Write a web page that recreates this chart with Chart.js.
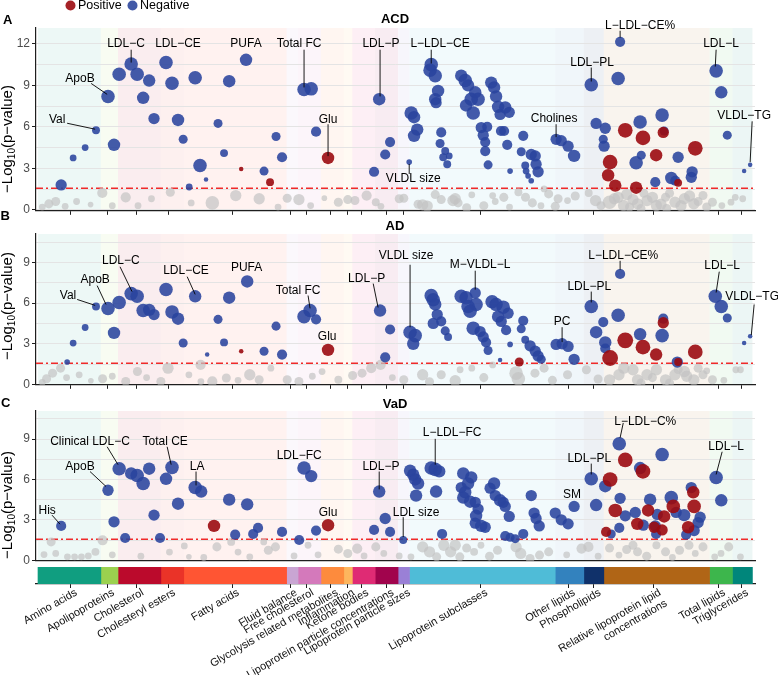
<!DOCTYPE html>
<html><head><meta charset="utf-8">
<script src="https://cdn.jsdelivr.net/npm/chart.js@4.4.1/dist/chart.umd.min.js"></script>
<style>
html,body{margin:0;padding:0;background:#fff;}
#wrap{position:relative;width:778px;height:675px;overflow:hidden;background:#fff;}
canvas{position:absolute;left:0;}
</style></head><body>
<div id="wrap">
<canvas id="cA" width="778" height="220" style="top:0px"></canvas>
<canvas id="cB" width="778" height="188" style="top:206px"></canvas>
<canvas id="cC" width="778" height="184" style="top:386px"></canvas>
<canvas id="cBar" width="778" height="113" style="top:562px"></canvas>
</div>
<script>
// ---------------- DATA ----------------
const categories = ['Amino acids','Apolipoproteins','Cholesterol','Cholesteryl esters','Fatty acids','Fluid balance','Free cholesterol','Glycolysis related metabolites','Inflammation','Ketone bodies','Lipoprotein particle concentrations','Lipoprotein particle sizes','Lipoprotein subclasses','Other lipids','Phospholipids',['Relative lipoprotein lipid','concentrations'],'Total lipids','Triglycerides'];
const catCounts = [22,6,15,8,36,4,8,8,3,8,8,4,51,10,7,37,8,7];
const catColors = ['#109e80','#9bd14f','#bb0a2c','#ea3328','#ff5533','#c9a5d3','#d479bb','#fd8b3d','#fdb65e','#df2b74','#a1044d','#9a80d6','#4fbcd7','#3382be','#10316a','#b06516','#3db64c','#00867b'];
const catTicks = [11.2,24.2,34.5,45.6,67.9,88.2,94.0,102.5,108.2,113.2,122.0,127.8,154.8,185.5,194.5,215.5,238.0,246.1];
const THRESHOLD = 1.56;
const yTicksA = [0,1.5,3,4.5,6,7.5,9,10.5,12];
const yTicksBC = [0,1.5,3,4.5,6,7.5,9,10.5];

// points: [metabolite position, -log10(p), bubble size]
const acdNeg = [
[8.1,1.8,5],[12.3,3.75,3],[16.5,4.5,3],[20.3,5.75,3.5],
[24.5,8.2,6],[26.6,4.7,5.5],
[28.4,9.8,6],[32.6,10.55,6],[34.7,9.8,6],[38.9,9.35,5.5],[36.8,8.1,5.5],[40.6,6.6,5],
[44.8,10.65,6],[46.9,9.15,6],[49,6.5,5.5],[50.8,5.1,4],[52.9,1.65,3],
[55,9.55,6],[56.7,3.2,6],[58.8,2.2,2],[63,6.25,4],[65.1,4.1,3.5],[66.9,9.3,5.5],[72.8,10.85,5.5],[79.1,2.8,4],[83.3,5.3,4],[85.4,3.8,4.5],
[93.1,8.7,6],[95.6,8.75,6],[97.3,5.65,4.5],
[117.6,2.75,4.5],[119.4,8,5.5],[121.5,4,4.5],[123.2,4.9,4.5],
[129.9,3.45,2.5],
[137.6,10.5,6],[137.2,10.1,6],[139,9.7,6],[140,8.6,5.5],[139,8,5.5],[139.3,7.75,5],
[130.6,7,6],[131.6,6.7,5.5],[132.7,5.8,5.5],[131.6,5.35,5.5],
[141.1,5.6,4.5],[140.7,4.8,4],[142.5,4.25,3.5],[143.9,3.9,3],[141.8,3.8,3.5],[143.2,3.3,3.5],
[148.1,9.7,5.5],[149.5,9.35,6],[150.5,9,5.5],[153,8.5,5.5],[151.6,8,6],[154,8,6],[149.8,7.55,5.5],[152.3,7,6],
[155.1,5.95,5],[157.2,6,4.5],[155.8,5.4,5],[156.5,4.9,4.5],[156.5,4.25,4.5],[157.5,3.25,4],
[158.6,9.2,5.5],[159.6,8.85,5.5],[160.3,8.2,5.5],[161,7.45,5.5],[163.5,7.4,5.5],[161.7,6.9,5],[164.9,7.05,5],[163.1,5.7,4.5],[162,5.7,4.5],[164.2,4.7,4.5],[165.2,2.8,2.5],
[169.8,5.35,4.5],[169.1,4.2,4],[170.5,3.2,3.5],[170.8,2.8,3],[171.5,2.45,2.5],[172.6,2.1,2.5],[172.6,4,5],[174,3.9,5],[174.3,3.3,5],[175,2.75,5],
[181.3,5.1,5],[183.1,5,5],[185.5,4.6,5],[187.6,3.9,5.5],
[193.6,9.05,6],[195.3,6.25,5],[198.5,5.9,5],[197.8,5.1,4],[198.1,4.6,5],
[203.7,12.15,4.5],[203,9.5,6],[210.7,6.35,6],[211.1,3.95,4],[209.3,3.4,6],[216,2,4.5],[218.4,6.85,6],[219.1,5.7,4],[224,3.8,5],[221.6,2.3,5.5],[223,2.1,4.5],[228.9,2.75,5],[228.6,2.35,5],
[237.3,10.05,6],[239.1,8.5,5.5],[241.2,5.4,4],
[247.1,2.8,2],[249.2,3.25,2]
];
const acdPos = [[71.1,2.95,2],[81.2,2,3.5],[101.5,3.75,5.5],[205.5,5.75,6.5],[200.2,3.45,6.5],[199.5,2.5,5.5],[202,1.75,5.5],[209.3,1.6,5.5],[211.7,5.2,6.5],[216.3,3.95,5.5],[218.8,5.6,5],[224,1.95,3.5],[230,4.45,6.5]];
const acdNs = [
[3.8,0.43,4],[6.2,0.6,4],[13.5,0.6,3],[18.4,0.38,2.5],[22.5,1.22,4.5],[30.7,0.9,4.5],[39.7,0.8,3],[46.3,1.27,4],[53.6,0.5,3],[61,0.5,6],[69.2,1.03,5],[77.4,0.8,5],[87.2,0.84,4],[91.3,0.74,5],[95.4,0.31,3],[100.2,0.84,2.5],[105.1,0.55,4],[108.4,0.74,4],[110.9,0.67,4],[115,1.03,4.5],[118.2,0.55,3.5],[126.4,0.8,4],[128,0.84,4],[134.6,0.36,5],[136.2,0.27,5],[141.1,0.74,4],[145.2,0.67,5],[146,0.8,5],[151.8,1.08,3],[159.1,1.03,3],[168.1,1.27,3.5],[170.6,0.91,4],[177.1,1.51,3],[178.7,1.15,4],[182,0.8,4],[185.3,0.67,3],[192.7,1.22,3.5],[195.1,0.67,5],[200,0.55,6],[201.7,0.8,5],[204.9,0.31,5],[208.2,0.74,5],[209.8,0.43,5],[213.1,0.67,5],[216.4,0.31,5],[219.6,0.91,4],[222.9,0.55,5],[226.2,0.8,5],[229.5,0.43,5],[232.7,1.03,4],[236,0.55,4],[239.3,0.31,3],[242.5,0.55,3],[246.6,0.8,3],
[203,0.9,5],[206,1.1,5],[212,1.2,4],[215,0.9,5],[218,0.4,5],[221,1.2,4],[225,0.3,5],[228,1.0,5],[231,0.6,4],[207,0.2,4],[211,0.1,4],[220,0.1,4],[133,0.4,4],[147,0.5,4],[156,0.3,4],[160,0.6,3],[165,0.2,3],[173,0.5,4],[176,0.3,3],
[1.5,0.2,3],[9.5,0.25,3],[26,0.3,3],[35,0.3,3],[84,0.2,3],[120,0.25,3],[139,1.1,4],[150,0.15,4],[163,0.9,4],[181,0.25,4],[188,1.0,4],[197,0.3,4],[234,0.2,4],[244,0.9,3]
];

const adNeg = [
[10.2,1.65,2.5],[12.3,3.05,3],[16.5,4.2,3],[20.3,5.75,3.5],
[24.5,5.6,6],[26.6,3.8,5.5],
[28.4,6.05,6],[32.6,6.7,6],[34.7,6.5,6],[36.8,5.45,6],[38.9,5.5,5.5],[40.6,5.15,5],
[44.8,7,6],[46.9,5.35,6],[49,4.85,5.5],[50.8,3.05,4],
[55,6.5,5.5],[59.2,2.2,2],[63,4.8,4],[65.1,3.1,3.5],[66.9,6.4,5.5],[73.2,7.6,5.5],[79.1,2.45,4],[83.3,4.3,4],[85.4,2.2,4.5],
[93.1,5,6],[95.2,5.45,6],[97.3,4.8,4.5],
[119.7,5.45,5.5],[121.5,2,4.5],[123.2,4.05,4.5],
[130.2,3.85,6],[132,3.6,6],[131.3,3,5.5],
[137.6,6.55,6],[138.3,6.25,6],[139,5.9,5.5],[139.7,5.15,5],[138.3,4.5,5],[141.1,4.65,4.5],[142.5,3.95,4],[143.5,3.5,3.5],
[148.1,6.5,6],[149.8,6.4,6],[153,6.75,5],[153.3,5.9,6],[150.5,5.75,6],[151.2,5.4,6],[152.3,4.15,6],[154.7,3.9,5],[155.8,3.5,5],[156.8,3.1,4.5],[157.5,2.5,4],
[158.9,6.1,6],[160.3,5.9,6],[161,5,5.5],[162.8,5.7,6],[164.5,5.25,5],[162.1,4.65,5],[163.8,4,4.5],[165.2,2.95,2.5],[161.7,1.8,2],
[169.8,4.7,4.5],[169.1,4.1,4],[170.5,3.3,3.5],[172.2,2.85,5],[174,2.45,5],[175,2.1,5],[176.1,1.85,4],
[181.3,2.95,5],[183.4,3,5],[185.5,2.8,5],[187.6,1.85,5],
[193.6,5.75,6],[195.3,3.85,5.5],[197.8,4.6,4.5],[198.5,3.1,5.5],[198.5,2.65,4.5],
[203.7,8.15,4.5],[203,5.1,6],[210.7,3.7,5.5],[218.4,3.6,6],[218.8,4.85,4.5],[223.7,1.65,5],
[237,6.5,6],[239.1,5.75,6],[241.2,4.9,4],
[247.1,3.05,2],[249.2,3.55,2]
];
const adPos = [[71.1,2.45,2],[101.5,2.55,5.5],[168.4,1.65,4],[205.5,3.25,7],[200.2,1.95,7],[211.7,2.75,6.5],[216.3,2.2,5.5],[218.8,4.55,5],[224,1.65,3.5],[230,2.4,6.5]];
const adNs = [
[3,0.42,4],[5.1,0.83,4],[7.9,1.2,4],[14.4,0.71,3],[18.5,0.27,2.5],[22.6,0.42,4],[30.7,0.22,4],[34.8,0.95,4],[43,0.22,4],[45.5,1.2,5],[52.8,0.71,3],[56.9,1.44,4.5],[61,0.22,4.5],[65.9,0.47,4],[74.1,0.71,5],[77.4,0.34,4],[81.5,1.2,3],[87.2,0.34,4],[91.3,0.22,4],[99.4,0.95,3],[105.1,0.34,3.5],[110.1,0.66,4],[113.4,0.83,4],[116.6,1.2,4.5],[119.9,1.44,4.5],[128,0.34,4],[134.6,0.71,5],[141.1,0.71,4],[146,0.27,5],[147.7,1.08,3],[151.8,1.2,3],[159.1,1.44,3],[167.3,0.83,6],[168.1,0.42,6],[173.9,0.83,4],[177.1,1.2,4],[185.3,0.71,4],[191.9,1.08,4],[200,0.34,5],[203.3,0.71,5],[208.2,1.08,5],[209.8,0.34,5],[213.1,0.71,5],[216.4,1.08,5],[219.6,0.34,5],[222.9,0.71,5],[226.2,0.95,5],[229.5,0.34,5],[232.7,0.71,4],[236,0.34,4],[244.2,1.08,3],[245.8,1.08,3],
[205,1.2,5],[211,0.1,4],[215,0.5,4],[221,0.1,4],[224,1.1,4],[227,0.6,5],[231,1.2,4],
[1.5,0.15,3],[10,0.5,3],[26,0.6,3],[38,0.5,3],[57,0.2,3],[70,0.3,3],[96,0.6,3],[124,0.5,3],[137,0.2,4],[156,0.5,4],[180,0.3,4],[196,0.4,4],[234,1.0,3],[240,0.3,3]
];

const vadNeg = [
[8.1,2.55,4.5],[24.5,5.2,5],[26.6,2.85,5],
[28.4,6.8,6],[30.5,1.65,4.5],[32.6,6.45,5.5],[34.7,6.3,6],[36.8,5.7,6],[38.9,6.8,5.5],[40.6,3.35,5],[42.7,1.65,4.5],
[44.8,6.05,5.5],[46.9,6.9,6],[49,4.2,5.5],
[55,5.4,6],[57.1,5.1,5.5],[66.9,4.5,5.5],[69,1.9,4.5],[73.2,4.15,5.5],[75.3,1.95,4.5],[77,2.4,4.5],[85.4,2.1,4.5],
[91.4,1.5,4.5],[93.1,6.85,6],[95.6,6.25,5.5],[97.3,2.2,4.5],
[117.6,2.25,4.5],[119.4,5.1,5.5],[121.5,3.1,5],[123.2,2.1,4.5],
[127.8,1.5,3.5],
[130.2,6.65,5.5],[131.3,6.35,5.5],[132,6,5.5],[133,5.7,5.5],[132.3,4.8,5.5],
[137.6,6.85,6],[139,6.75,6],[140.4,6.6,5.5],[139.3,5.1,5.5],[141.4,1.95,4.5],
[148.8,6.45,5.5],[151.6,6.15,5.5],[150.5,5.7,5.5],[148.1,5.4,5],[149.5,5.05,5.5],[148.8,4.65,5.5],[151.2,4.35,5.5],[153,4.3,5],[154,3.8,5],[153.3,3.3,5.5],[153,2.75,5],[155.1,2.55,5.5],[156.5,2.45,5],
[159.6,5.7,5.5],[158.2,5.35,5],[160,4.8,5],[161.7,4.45,5.5],[162.8,4.3,5],[163.5,4,5],[164.9,3.25,5],[163.5,1.8,4.5],[165.2,1.7,4],[167,1.6,4],[169.8,1.95,4.5],
[172.6,4.8,5],[173.6,3.5,5],[174.3,3.1,5],[175.4,2.55,5],
[181,3.5,5],[183.1,3,5],[185.5,2.7,5],[187.6,4,5],
[193.6,6.05,6],[195.3,4.1,5.5],[198.5,5.5,5.5],
[203.4,8.65,6],[200.6,1.95,4],[203.7,4.6,5],[203.4,2.4,4.5],[205.5,3.3,5],[209,3.55,5],[211.8,2.6,5],[210.7,6.85,5.5],[218.4,7.85,6],[214.2,4.5,5.5],[216.7,3.4,5],[216,2.55,5],[216.3,1.95,4.5],[221.6,4.65,6],[223.3,3.55,5],[226.1,3.35,5.5],[226.8,1.9,4.5],[228.6,5.4,5],[231.7,3.2,5],[231,2.8,5],[229.6,2.2,5],
[237.3,6.15,6],[239.1,4.45,5.5]
];
const vadPos = [[61.6,2.55,5.5],[101.5,2.6,5.5],[205.5,7.45,6.5],[200.2,6,6.5],[198.8,2.1,4.5],[202,3.7,6],[209.7,2.7,5.5],[211.7,6.6,6.5],[213.5,3.7,5.5],[215.6,2.45,5],[218.4,2.25,5],[219.1,3.25,5.5],[222.3,4,6],[227.5,2.45,5.5],[229.3,5.05,5.5],[229.6,4,6]];
const vadNs = [
[4.6,1.36,4],[2.1,0.42,3],[6.2,0.5,3],[10.3,0.25,3],[12.8,0.25,3],[15.2,0.25,3],[17.6,0.32,3],[20.1,0.62,3.5],[22.6,1.48,4.5],[51.2,1.06,3],[52.8,0.25,2.5],[62.6,0.99,4],[67.6,1.36,3.5],[74.1,0.25,3],[79,1.36,3],[80.6,0.74,4],[83.1,0.99,4],[89.6,0.32,3],[94.5,1.11,3],[105.1,0.82,4],[108.4,0.5,4],[111.7,0.86,4.5],[114.1,0.32,3],[118.2,0.99,4],[126.4,0.32,3],[130.5,0.25,3],[134.6,0.99,5],[137,0.62,5],[139.5,0.25,4],[142,1.11,5],[144.4,0.62,5],[146,1.11,5],[147.6,0.25,4],[152.6,0.62,3.5],[155,1.11,3],[160.8,0.74,4],[167.3,0.99,5],[168.9,0.5,5],[172.2,0.13,4],[175.5,0.38,4],[178.7,0.62,4],[190.2,0.86,4.5],[192.6,0.99,4.5],[203.3,0.38,3],[208.2,1.11,4],[209.8,0.62,4],[216.4,1.11,3.5],[219.6,0.62,4],[224.5,0.74,4],[227.8,1.11,4],[232.7,0.99,4],[236.8,0.25,3],[241.7,0.99,4],[245.8,0.25,3],
[200,0.9,4],[213,0.3,4],[222,0.2,3],[230,0.5,3],
[26,0.4,3],[36,0.3,3],[46,0.6,3],[58,0.2,3],[70,0.6,3],[98,0.4,3],[121,0.5,3],[150,0.9,4],[158,0.3,4],[185,0.4,3],[196,0.3,3],[206,0.8,4],[239,0.5,3]
];

// labels: [text, textX, textY, lineFromX, lineFromY, lineToX, lineToY]
const acdLabels = [
['Val',6.7,6.55,10.2,6.26,20,5.83],
['ApoB',14.7,9.5,18.6,9.14,24.2,8.35],
['LDL−C',30.8,12.0,32.6,11.58,32.6,10.65],
['LDL−CE',49,12.0],
['PUFA',72.8,12.0],
['Total FC',91.4,12.0,93.1,11.58,93.1,8.85],
['Glu',101.5,6.55,101.5,6.19,101.5,3.88],
['LDL−P',120,12.0,119.7,11.58,119.7,8.2],
['L−LDL−CE',140.7,12.0,137.6,11.58,137.6,10.58],
['VLDL size',131.3,2.23,129.9,2.59,129.9,3.31],
['Cholines',180.6,6.6,181.3,6.19,181.3,5.25],
['LDL−PL',193.9,10.65,193.6,10.29,193.6,9.28],
['L−LDL−CE%',210.7,13.3,203.7,12.95,203.7,12.45],
['LDL−L',239,12.0,237.3,11.58,237,10.36],
['VLDL−TG',247.1,6.8,249.9,6.4,249.2,3.45]
];
const adLabels = [
['Val',10.5,6.55,13.7,6.27,20,5.83],
['ApoB',20,7.7,20.7,7.29,23.8,5.9],
['LDL−C',29,9.1,28.7,8.68,32.9,6.85],
['LDL−CE',51.8,8.4,52.2,7.95,55,6.64],
['PUFA',73,8.6],
['Total FC',91,6.9,94.5,6.56,95.2,5.61],
['Glu',101.2,3.5],
['LDL−P',115,7.8,117.3,7.44,119,5.68],
['VLDL size',128.8,9.5,130.2,8.83,130.2,4.22],
['M−VLDL−L',154.7,8.8,153,8.39,153,7.0],
['PC',183.4,4.6,183.4,4.22,183.4,3.12],
['LDL−PL',192.9,7.2,193.6,6.85,193.6,6.05],
['L−LDL−CE%',204.8,9.5,203.7,9.12,203.7,8.46],
['LDL−L',239.4,8.75,238.4,8.32,237.3,6.78],
['VLDL−TG',249.9,6.5,250.6,5.9,249.6,3.64]
];
const vadLabels = [
['His',3.2,3.7,4.9,3.35,7.7,2.68],
['ApoB',14.7,6.95,18.2,6.59,23.8,5.48],
['Clinical LDL−C',18.2,8.8,24.2,8.43,28,7.1],
['Total CE',44.5,8.8,45.2,8.43,46.6,7.1],
['LA',55.7,6.95,55.3,6.59,55.3,5.56],
['LDL−FC',91.4,7.75],
['Glu',101.5,3.55],
['LDL−P',120,6.95,119.4,6.59,119.4,5.26],
['LDL size',132.3,3.55,127.8,3.2,127.8,1.72],
['L−LDL−FC',144.9,9.45,139,9.02,139,7.1],
['SM',186.9,4.9],
['LDL−PL',192.9,7.55,193.6,7.18,193.6,6.37],
['L−LDL−C%',212.5,10.3,204.8,10.2,203.7,9.1],
['LDL−L',240.8,8.45,239.4,8.06,237.3,6.37]
];

// ---------------- STYLE ----------------
const FONT = '"Liberation Sans", Arial, Helvetica, sans-serif';
Chart.defaults.font.family = FONT;
Chart.defaults.font.size = 12;
const X_MIN = -0.7, X_MAX = 250.9;
const SIZE_SCALE = 1.13;
const BLUE = 'rgba(42,68,158,0.88)', RED = 'rgba(155,10,15,0.9)', GREY = 'rgba(195,195,195,0.7)';
const AXIS = '#1e1e1e';
function tint(hex, a){const n=parseInt(hex.slice(1),16);return `rgba(${n>>16&255},${n>>8&255},${n&255},${a})`;}
function toPts(arr){return arr.map(p=>({x:p[0],y:p[1],r:p[2]*SIZE_SCALE}));}
const catStarts = catCounts.map((n,i)=>catCounts.slice(0,i).reduce((a,b)=>a+b,0));

function drawYTitle(ctx, cx, cy){
  ctx.save(); ctx.translate(cx, cy); ctx.rotate(-Math.PI/2);
  const big='15px '+FONT, small='10px '+FONT;
  ctx.font=big; const w1=ctx.measureText('−Log').width, w3=ctx.measureText('(p−value)').width;
  ctx.font=small; const w2=ctx.measureText('10').width;
  const x0=-(w1+w2+w3)/2;
  ctx.fillStyle='#000'; ctx.textAlign='left'; ctx.textBaseline='alphabetic';
  ctx.font=big; ctx.fillText('−Log', x0, 5);
  ctx.font=small; ctx.fillText('10', x0+w1, 8);
  ctx.font=big; ctx.fillText('(p−value)', x0+w1+w2, 5);
  ctx.restore();
}

function makeDeco(cfg){
  return {
    id:'deco',
    beforeDraw(chart){
      const {ctx, chartArea:a, scales:{x}} = chart;
      ctx.save();
      catCounts.forEach((n,i)=>{
        const p0=x.getPixelForValue(catStarts[i]), p1=x.getPixelForValue(catStarts[i]+n);
        ctx.fillStyle=tint(catColors[i],0.075);
        ctx.fillRect(p0,a.top,p1-p0,a.bottom-a.top);
      });
      ctx.restore();
    },
    beforeDatasetsDraw(chart){
      const {ctx, chartArea:a, scales:{y}} = chart;
      const py=y.getPixelForValue(THRESHOLD);
      ctx.save(); ctx.strokeStyle='#f02a2a'; ctx.lineWidth=1.4; ctx.setLineDash([7,3,2,3]);
      ctx.beginPath(); ctx.moveTo(a.left,py); ctx.lineTo(a.right,py); ctx.stroke(); ctx.restore();
    },
    afterDatasetsDraw(chart){
      const {ctx, scales:{x,y}} = chart;
      ctx.save();
      ctx.strokeStyle='#000'; ctx.lineWidth=0.9;
      cfg.labels.forEach(l=>{ if(l.length>3){ ctx.beginPath(); ctx.moveTo(x.getPixelForValue(l[3]),y.getPixelForValue(l[4])); ctx.lineTo(x.getPixelForValue(l[5]),y.getPixelForValue(l[6])); ctx.stroke(); }});
      ctx.fillStyle='#000'; ctx.font='12px '+FONT; ctx.textAlign='center'; ctx.textBaseline='middle';
      cfg.labels.forEach(l=>ctx.fillText(l[0], x.getPixelForValue(l[1]), y.getPixelForValue(l[2])));
      ctx.restore();
    },
    afterDraw(chart){
      const ctx=chart.ctx; const off=cfg.top;
      ctx.save();
      ctx.fillStyle='#000'; ctx.font='bold 13px '+FONT; ctx.textBaseline='middle';
      ctx.textAlign='left'; ctx.fillText(cfg.letter, cfg.letterX, cfg.letterY-off);
      ctx.textAlign='center'; ctx.fillText(cfg.title, 395, cfg.titleY-off);
      ctx.restore();
      drawYTitle(ctx, 7, cfg.yTitleY-off);
      if(cfg.legend){
        ctx.save();
        ctx.fillStyle='#a52227'; ctx.beginPath(); ctx.arc(70.5,5.5,5,0,Math.PI*2); ctx.fill();
        ctx.fillStyle='#4259a7'; ctx.beginPath(); ctx.arc(132.5,5.5,5,0,Math.PI*2); ctx.fill();
        ctx.fillStyle='#000'; ctx.font='12.5px '+FONT; ctx.textAlign='left'; ctx.textBaseline='middle';
        ctx.fillText('Positive',78,6); ctx.fillText('Negative',140,6);
        ctx.restore();
      }
    }
  };
}

function panel(id, neg, pos, ns, cfg){
  return new Chart(document.getElementById(id), {
    type:'bubble',
    data:{datasets:[
      {label:'Positive', data:toPts(pos), backgroundColor:RED, borderWidth:0, order:1},
      {label:'Negative', data:toPts(neg), backgroundColor:BLUE, borderWidth:0, order:2},
      {label:'NS', data:toPts(ns), backgroundColor:GREY, borderWidth:0, order:3}
    ]},
    options:{
      responsive:false, animation:false, events:[], devicePixelRatio:1,
      layout:{padding:{left:0,right:23,top:cfg.padTop,bottom:2}},
      plugins:{legend:{display:false}, tooltip:{enabled:false}},
      scales:{
        x:{type:'linear', min:X_MIN, max:X_MAX,
           afterBuildTicks:s=>{s.ticks=catTicks.map(v=>({value:v}));},
           ticks:{display:false},
           grid:{display:cfg.xTicks, drawOnChartArea:false, drawTicks:true, tickLength:4, color:AXIS, lineWidth:1},
           border:{display:true, color:AXIS, width:1.2},
           afterFit:s=>{s.height=6;}},
        y:{type:'linear', min:cfg.yMin, max:cfg.yMax,
           afterBuildTicks:s=>{s.ticks=cfg.yTicks.map(v=>({value:v}));},
           ticks:{color:'#4d4d4d', font:{size:12}, padding:2, callback:v=>(Math.abs(v%3)<1e-9?String(v):'')},
           grid:{color:'#e4e4e4', lineWidth:1, tickLength:4, tickColor:c=>(c.tick && Math.abs(c.tick.value%3)<1e-9)?AXIS:'rgba(0,0,0,0)'},
           border:{display:true, color:AXIS, width:1.2},
           afterFit:s=>{s.width=36;}}
      }
    },
    plugins:[makeDeco(cfg)]
  });
}

panel('cA', acdNeg, acdPos, acdNs, {labels:acdLabels, top:0, padTop:28, yMin:-0.072, yMax:13.15, yTicks:yTicksA, xTicks:true, letter:'A', letterX:3, letterY:20.5, title:'ACD', titleY:19.5, yTitleY:139, legend:true});
panel('cB', adNeg, adPos, adNs, {labels:adLabels, top:206, padTop:28, yMin:-0.03, yMax:11.1, yTicks:yTicksBC, xTicks:true, letter:'B', letterX:0.5, letterY:216.7, title:'AD', titleY:226, yTitleY:306, legend:false});
panel('cC', vadNeg, vadPos, vadNs, {labels:vadLabels, top:386, padTop:25, yMin:-0.045, yMax:11.09, yTicks:yTicksBC, xTicks:false, letter:'C', letterX:1, letterY:403.5, title:'VaD', titleY:404.5, yTitleY:505, legend:false});

// category colour bar with rotated category names
const catLabelPlugin = {
  id:'catLabels',
  afterDraw(chart){
    const {ctx, chartArea:a, scales:{x}} = chart;
    ctx.save();
    ctx.fillStyle='#111'; ctx.font='11px '+FONT; ctx.textAlign='right'; ctx.textBaseline='top';
    catTicks.forEach((v,i)=>{
      const lines=[].concat(categories[i]);
      ctx.save();
      ctx.translate(x.getPixelForValue(v)+3.5, a.bottom+3);
      ctx.rotate(-Math.PI/6);
      lines.forEach((ln,k)=>ctx.fillText(ln,0,k*12.5));
      ctx.restore();
    });
    ctx.restore();
  }
};
new Chart(document.getElementById('cBar'), {
  type:'bar',
  data:{labels:[''], datasets:catCounts.map((n,i)=>({label:String(categories[i]), data:[[catStarts[i], catStarts[i]+n]], backgroundColor:catColors[i], borderWidth:0, grouped:false, barPercentage:1, categoryPercentage:1}))},
  options:{
    indexAxis:'y', responsive:false, animation:false, events:[], devicePixelRatio:1,
    layout:{padding:{left:36,right:23,top:5,bottom:0}},
    plugins:{legend:{display:false}, tooltip:{enabled:false}},
    scales:{
      x:{type:'linear', min:X_MIN, max:X_MAX,
         afterBuildTicks:s=>{s.ticks=catTicks.map(v=>({value:v}));},
         ticks:{display:false},
         grid:{drawOnChartArea:false, drawTicks:true, tickLength:4, color:AXIS, lineWidth:1},
         border:{display:true, color:AXIS, width:1.2},
         afterFit:s=>{s.height=91;}},
      y:{display:false}
    }
  },
  plugins:[catLabelPlugin]
});
</script>
</body></html>
